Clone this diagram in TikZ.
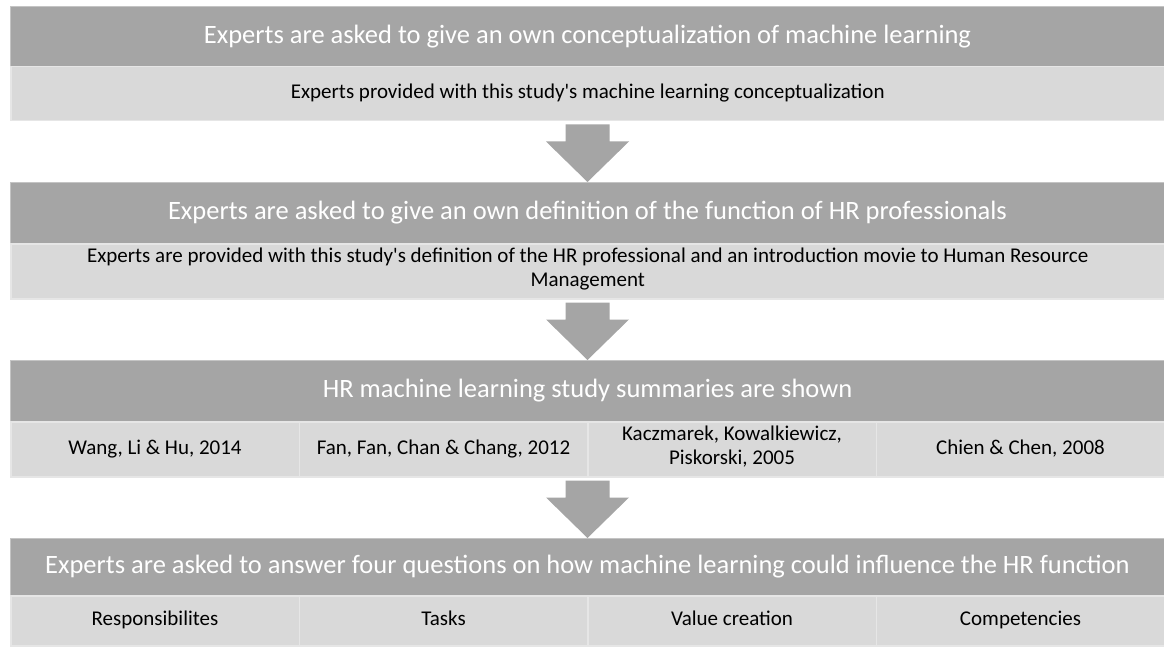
\documentclass[tikz,border=0pt]{standalone}
\usepackage{fontspec}
\setmainfont{Carlito}
\usetikzlibrary{calc}

\definecolor{hdgray}{RGB}{165,165,165}
\definecolor{hdline}{RGB}{196,196,196}
\definecolor{subgray}{RGB}{217,217,217}
\definecolor{subline}{RGB}{230,230,230}

\tikzset{
  hdbox/.style={fill=hdgray, draw=hdline, line width=1pt, text=white,
    anchor=north west, inner sep=0pt, minimum width=1154pt, minimum height=#1,
    font=\fontsize{26.5}{30}\selectfont},
  subbox/.style={fill=subgray, draw=subline, line width=1.5pt, text=black,
    anchor=north west, inner sep=0pt, minimum width=1154pt, minimum height=#1,
    align=center, font=\fontsize{21}{24}\selectfont,
    execute at begin node=\strut, execute at end node=\strut},
  cellbox/.style={subbox=#1, minimum width=288.5pt}
}

\newcommand{\flowarrow}[2]{%
  \fill[hdgray] ($(#1 -| #2)+(-22,3)$) -- ($(#1 -| #2)+(22,3)$)
    -- ($(#1 -| #2)+(22,20)$) -- ($(#1 -| #2)+(41.5,20)$) -- (#2)
    -- ($(#1 -| #2)+(-41.5,20)$) -- ($(#1 -| #2)+(-22,20)$) -- cycle;}

\begin{document}
\begin{tikzpicture}[x=1pt,y=-1pt]
  \useasboundingbox (0,0) rectangle (1164,647);

  \node[hdbox=60pt] (hd1) at (10,6)
    {Experts are asked to give an own conceptualization of machine learning};
  \node[subbox=54pt] (sub1) at (10,66)
    {Experts provided with this study\textquotesingle s machine learning conceptualization};

  \node[hdbox=61pt] (hd2) at (10,182)
    {Experts are asked to give an own definition of the function of HR professionals};
  \node[subbox=55pt] (sub2) at (10,243)
    {Experts are provided with this study\textquotesingle s definition of the HR professional and an introduction movie to Human Resource\\Management};

  \node[hdbox=61pt] (hd3) at (10,360) {HR machine learning study summaries are shown};
  \node[cellbox=55pt] (s1) at (10,421) {Wang, Li \& Hu, 2014};
  \node[cellbox=55pt] (s2) at (298.5,421) {Fan, Fan, Chan \& Chang, 2012};
  \node[cellbox=55pt] (s3) at (587,421) {Kaczmarek, Kowalkiewicz,\\Piskorski, 2005};
  \node[cellbox=55pt] (s4) at (875.5,421) {Chien \& Chen, 2008};

  \node[hdbox=57pt] (hd4) at (10,538)
    {Experts are asked to answer four questions on how machine learning could influence the HR function};
  \node[cellbox=50pt] (q1) at (10,595) {Responsibilites};
  \node[cellbox=50pt] (q2) at (298.5,595) {Tasks};
  \node[cellbox=50pt] (q3) at (587,595) {Value creation};
  \node[cellbox=50pt] (q4) at (875.5,595) {Competencies};

  \flowarrow{sub1.south}{hd2.north}
  \flowarrow{sub2.south}{hd3.north}
  \flowarrow{s2.south east}{hd4.north}
\end{tikzpicture}
\end{document}
